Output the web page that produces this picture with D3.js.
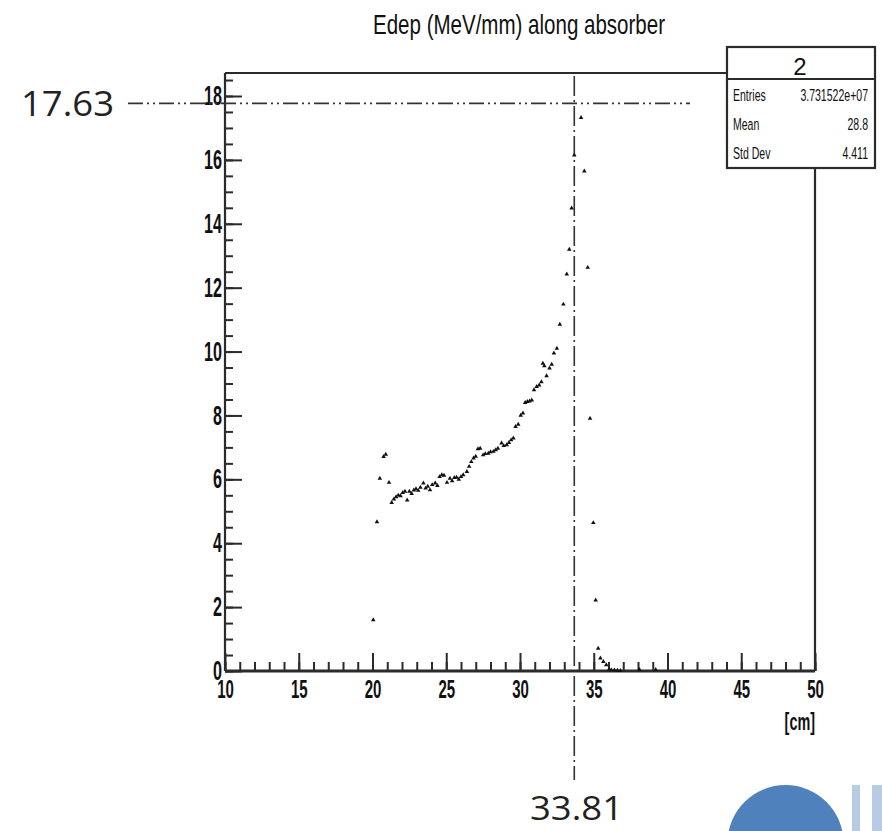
<!DOCTYPE html>
<html>
<head>
<meta charset="utf-8">
<script src="https://cdn.jsdelivr.net/npm/d3@7"></script>
<style>
  body { margin: 0; background: #fff; }
  svg { display: block; }
</style>
</head>
<body>
<div class="chart_container"></div>
<script>
// bin positions (cm) and energy deposit (MeV/mm)
const binX = [
  20.05, 20.3, 20.5, 20.75, 20.9, 21.12, 21.3, 21.45, 21.6, 21.75,
  21.9, 22.05, 22.2, 22.35, 22.5, 22.65, 22.8, 22.95, 23.1, 23.25,
  23.45, 23.6, 23.75, 23.9, 24.05, 24.25, 24.4, 24.55, 24.7, 24.85,
  25.05, 25.25, 25.4, 25.55, 25.7, 25.85, 26.0, 26.15, 26.4, 26.55,
  26.7, 26.85, 27.0, 27.15, 27.3, 27.5, 27.65, 27.85, 28.0, 28.2,
  28.35, 28.5, 28.75, 28.9, 29.1, 29.25, 29.4, 29.55, 29.7, 29.88,
  30.05, 30.2, 30.35, 30.5, 30.65, 30.8, 30.95, 31.13, 31.3, 31.45,
  31.55, 31.65, 31.8, 32.0, 32.15, 32.3, 32.5, 32.7, 32.94, 33.17,
  33.34, 33.5, 33.68, 34.14, 34.36, 34.59, 34.75, 34.97, 35.13, 35.3,
  35.45, 35.65, 35.85, 36.05, 36.2, 36.4, 36.6, 36.8, 38.1, 39.2
];
const edep = [
  1.60, 4.67, 6.03, 6.71, 6.78, 5.90, 5.27, 5.38, 5.45, 5.50,
  5.48, 5.58, 5.62, 5.35, 5.62, 5.55, 5.66, 5.70, 5.65, 5.75,
  5.88, 5.72, 5.78, 5.67, 5.83, 5.88, 5.80, 6.08, 6.14, 6.12,
  5.90, 6.03, 5.95, 6.05, 6.06, 6.00, 6.08, 6.14, 6.24, 6.40,
  6.55, 6.66, 6.72, 6.95, 6.97, 6.76, 6.80, 6.81, 6.86, 6.87,
  6.92, 6.97, 7.13, 7.05, 7.08, 7.15, 7.23, 7.29, 7.65, 7.72,
  8.00, 8.07, 8.40, 8.43, 8.45, 8.48, 8.80, 8.90, 8.95, 9.05,
  9.63, 9.55, 9.24, 9.48, 9.60, 9.95, 10.10, 10.85, 11.48, 12.42,
  13.20, 14.49, 16.15, 17.32, 15.65, 12.63, 7.91, 4.64, 2.22, 0.71,
  0.40, 0.29, 0.19, 0.06, 0.03, 0.03, 0.02, 0.01, 0.04, 0.04
];

const yTickValues = [0, 2, 4, 6, 8, 10, 12, 14, 16, 18];
const xTickValues = [10, 15, 20, 25, 30, 35, 40, 45, 50];
const statNames = ["Entries", "Mean", "Std Dev"];
const statValues = ["3.731522e+07", "28.8", "4.411"];
const histName = "2";
const chartTitle = "Edep (MeV/mm) along absorber";
const xUnit = "[cm]";

// annotation marks (where they sit on the plot) and their labels
const peakPos = 33.68;
const peakLabel = "33.81";
const levelPos = 17.77;
const levelLabel = "17.63";

const width = 882;
const height = 831;
const font = "'Liberation Sans', Arial, sans-serif";
const ink = "#2b2b2b";

function drawChart() {
  const container = document.querySelector('div.chart_container');
  container.innerHTML = `<svg id="svgCont" width=${width} height=${height}></svg>`;
  const svg = d3.select(container).select('#svgCont');

  const x = d3.scaleLinear().domain([10, 50]).range([225, 815]);
  const y = d3.scaleLinear().domain([0, 18.72]).range([671, 73]);

  // title
  svg.append('text')
    .attr('x', 373).attr('y', 34)
    .attr('font-family', font).attr('font-size', 28)
    .attr('textLength', 292).attr('lengthAdjust', 'spacingAndGlyphs')
    .attr('fill', '#111')
    .text(chartTitle);

  // frame
  const frame = svg.append('g').attr('stroke', ink).attr('stroke-width', 2.2).attr('fill', 'none');
  frame.append('line').attr('x1', x(10)).attr('x2', 727).attr('y1', y.range()[1]).attr('y2', y.range()[1]);
  frame.append('line').attr('x1', x(50)).attr('x2', x(50)).attr('y1', 168).attr('y2', y(0));

  // y axis: major + minor ticks pointing inward
  const yMinor = d3.range(0, 18.6, 0.5);
  svg.append('g')
    .attr('transform', `translate(${x(10)},0)`)
    .call(d3.axisLeft(y).tickValues(yMinor).tickSizeInner(-8).tickSizeOuter(0).tickFormat(''))
    .call(g => g.select('.domain').remove())
    .call(g => g.selectAll('line').attr('stroke', ink).attr('stroke-width', 2));

  const yAxis = svg.append('g')
    .attr('transform', `translate(${x(10)},0)`)
    .call(d3.axisLeft(y).tickValues(yTickValues).tickSizeInner(-17).tickSizeOuter(0).tickPadding(4));
  yAxis.select('.domain').remove();
  yAxis.selectAll('line').attr('stroke', ink).attr('stroke-width', 2);
  yAxis.selectAll('text')
    .attr('x', 0)
    .attr('transform', 'translate(-3,0) scale(0.6,1)')
    .attr('font-family', font).attr('font-size', 27).attr('font-weight', 'bold')
    .attr('fill', '#111');

  // x axis
  const xMinor = d3.range(10, 50.1, 1);
  svg.append('g')
    .attr('transform', `translate(0,${y(0)})`)
    .call(d3.axisBottom(x).tickValues(xMinor).tickSizeInner(-9).tickSizeOuter(0).tickFormat(''))
    .call(g => g.select('.domain').remove())
    .call(g => g.selectAll('line').attr('stroke', ink).attr('stroke-width', 2));

  const xAxis = svg.append('g')
    .attr('transform', `translate(0,${y(0)})`)
    .call(d3.axisBottom(x).tickValues(xTickValues).tickSizeInner(-18).tickSizeOuter(0).tickPadding(9));
  xAxis.select('.domain').remove();
  xAxis.selectAll('line').attr('stroke', ink).attr('stroke-width', 2);
  xAxis.selectAll('text')
    .attr('transform', 'scale(0.6,1)')
    .attr('font-family', font).attr('font-size', 25).attr('font-weight', 'bold')
    .attr('fill', '#111');

  // axis lines on top of ticks
  frame.append('line').attr('x1', x(10)).attr('x2', x(10)).attr('y1', y.range()[1]).attr('y2', y(0));
  svg.append('line')
    .attr('x1', x(10)).attr('x2', x(50)).attr('y1', y(0)).attr('y2', y(0))
    .attr('stroke', ink).attr('stroke-width', 3);

  svg.append('text')
    .attr('x', 815).attr('y', 730)
    .attr('text-anchor', 'end')
    .attr('transform', 'translate(326,0) scale(0.6,1)')
    .attr('font-family', font).attr('font-size', 24).attr('font-weight', 'bold')
    .attr('fill', '#111')
    .text(xUnit);

  // annotation lines
  const dashDot = '15,4,2,4,2,4';
  svg.append('line')
    .attr('x1', 128).attr('x2', 690)
    .attr('y1', y(levelPos)).attr('y2', y(levelPos))
    .attr('stroke', '#333').attr('stroke-width', 1.6)
    .attr('stroke-dasharray', dashDot);
  svg.append('line')
    .attr('x1', x(peakPos)).attr('x2', x(peakPos))
    .attr('y1', 76).attr('y2', 780)
    .attr('stroke', '#333').attr('stroke-width', 1.6)
    .attr('stroke-dasharray', '20,4,2,4');

  // data points
  svg.append('g')
    .selectAll('path')
    .data(binX).enter().append('path')
    .attr('d', d3.symbol().type(d3.symbolTriangle).size(9))
    .attr('transform', (d, i) => `translate(${x(d)},${y(edep[i])})`)
    .attr('fill', '#111');

  // stats box
  const box = svg.append('g');
  box.append('rect')
    .attr('x', 727).attr('y', 47).attr('width', 148).attr('height', 121)
    .attr('fill', '#fff').attr('stroke', ink).attr('stroke-width', 2.2);
  box.append('line')
    .attr('x1', 727).attr('x2', 875).attr('y1', 79).attr('y2', 79)
    .attr('stroke', ink).attr('stroke-width', 2);
  box.append('text')
    .attr('x', 800).attr('y', 75)
    .attr('text-anchor', 'middle')
    .attr('font-family', font).attr('font-size', 24)
    .attr('fill', '#111')
    .text(histName);
  const rowY = d3.scaleBand().domain(statNames).range([80, 168]);
  box.selectAll('text.name')
    .data(statNames).enter().append('text')
    .attr('class', 'name')
    .attr('x', 0).attr('y', 0)
    .attr('transform', d => `translate(733,${rowY(d) + rowY.bandwidth() / 2 + 6}) scale(0.62,1)`)
    .attr('font-family', font).attr('font-size', 17)
    .attr('fill', '#111')
    .text(d => d);
  box.selectAll('text.val')
    .data(statValues).enter().append('text')
    .attr('class', 'val')
    .attr('x', 0).attr('y', 0)
    .attr('text-anchor', 'end')
    .attr('transform', (d, i) => `translate(868,${rowY(statNames[i]) + rowY.bandwidth() / 2 + 6}) scale(0.62,1)`)
    .attr('font-family', font).attr('font-size', 17)
    .attr('fill', '#111')
    .text(d => d);

  // slide annotations
  svg.append('text')
    .attr('x', 21).attr('y', 116)
    .attr('font-family', "'Open Sans', 'Noto Sans', sans-serif").attr('font-size', 34)
    .attr('textLength', 93).attr('lengthAdjust', 'spacingAndGlyphs')
    .attr('fill', '#222')
    .text(levelLabel);
  svg.append('text')
    .attr('x', 530).attr('y', 820)
    .attr('font-family', "'Open Sans', 'Noto Sans', sans-serif").attr('font-size', 33)
    .attr('textLength', 93).attr('lengthAdjust', 'spacingAndGlyphs')
    .attr('fill', '#222')
    .text(peakLabel);

  // slide decoration, bottom right
  svg.append('circle')
    .attr('cx', 785.5).attr('cy', 843).attr('r', 58)
    .attr('fill', '#4f81bd');
  svg.append('rect')
    .attr('x', 852).attr('y', 785).attr('width', 8).attr('height', 46)
    .attr('fill', '#b9cae4');
  svg.append('rect')
    .attr('x', 872).attr('y', 785).attr('width', 10).attr('height', 46)
    .attr('fill', '#b9cae4');
}

drawChart();
</script>
</body>
</html>
